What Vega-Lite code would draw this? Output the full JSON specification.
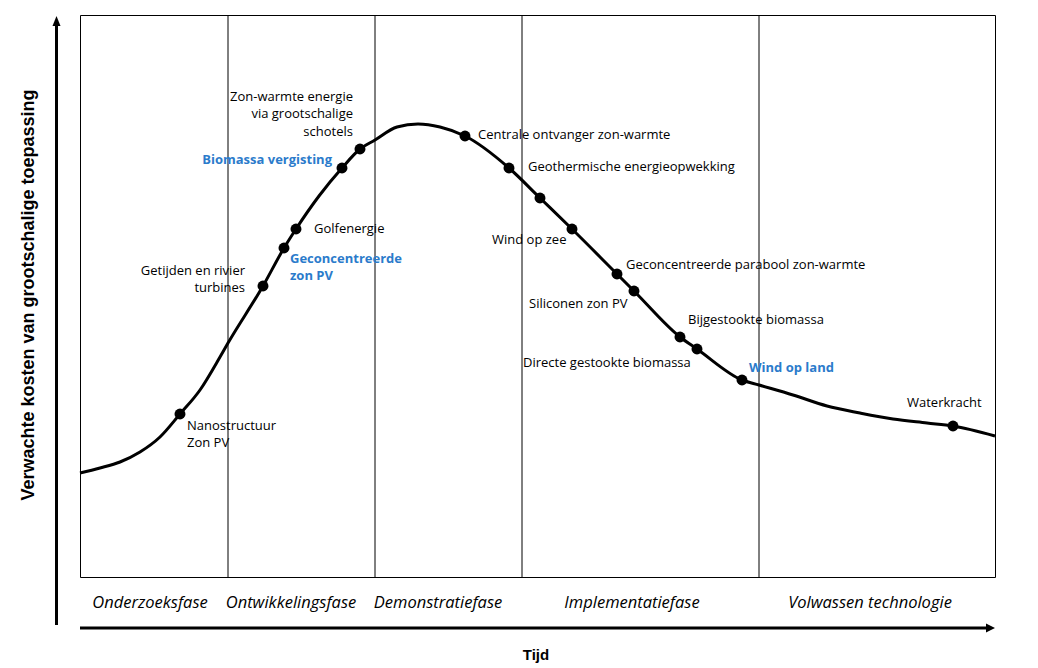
{
  "$schema": "https://vega.github.io/schema/vega-lite/v6.json",
  "width": 915,
  "height": 562,
  "autosize": {"type": "none"},
  "padding": {"left": 80, "top": 15, "right": 43, "bottom": 91},
  "background": "#ffffff",
  "config": {"view": {"stroke": "#000000", "strokeWidth": 1}},
  "datasets": {
    "curve": [
      {"t": 0, "cost": 104}, {"t": 20, "cost": 109}, {"t": 40, "cost": 115}, {"t": 60, "cost": 125},
      {"t": 80, "cost": 140}, {"t": 100, "cost": 163}, {"t": 120, "cost": 187}, {"t": 140, "cost": 220},
      {"t": 148, "cost": 234}, {"t": 183, "cost": 291}, {"t": 204, "cost": 329}, {"t": 216, "cost": 348},
      {"t": 239, "cost": 381}, {"t": 262, "cost": 409}, {"t": 280, "cost": 428}, {"t": 295, "cost": 437},
      {"t": 317, "cost": 450}, {"t": 338, "cost": 453}, {"t": 360, "cost": 450}, {"t": 385, "cost": 441},
      {"t": 429, "cost": 409}, {"t": 460, "cost": 379}, {"t": 492, "cost": 348}, {"t": 537, "cost": 303},
      {"t": 554, "cost": 286}, {"t": 600, "cost": 240}, {"t": 617, "cost": 228}, {"t": 662, "cost": 197},
      {"t": 679, "cost": 192}, {"t": 713, "cost": 182}, {"t": 747, "cost": 171}, {"t": 780, "cost": 164},
      {"t": 813, "cost": 158}, {"t": 847, "cost": 154}, {"t": 873, "cost": 151}, {"t": 915, "cost": 141}
    ],
    "dots": [
      {"t": 100, "cost": 163}, {"t": 183, "cost": 291}, {"t": 204, "cost": 329}, {"t": 216, "cost": 348},
      {"t": 262, "cost": 409}, {"t": 280, "cost": 428}, {"t": 385, "cost": 441}, {"t": 429, "cost": 409},
      {"t": 460, "cost": 379}, {"t": 492, "cost": 348}, {"t": 537, "cost": 303}, {"t": 554, "cost": 286},
      {"t": 600, "cost": 240}, {"t": 617, "cost": 228}, {"t": 662, "cost": 197}, {"t": 873, "cost": 151}
    ],
    "labelsRight": [
      {"label": "Zon-warmte energie\nvia grootschalige\nschotels", "t": 273, "cost": 476.5},
      {"label": "Getijden en rivier\nturbines", "t": 165, "cost": 302.5}
    ],
    "labelsRightBlue": [
      {"label": "Biomassa vergisting", "t": 252, "cost": 413.5}
    ],
    "labelsLeft": [
      {"label": "Golfenergie", "t": 234, "cost": 344.5},
      {"label": "Nanostructuur\nZon PV", "t": 107, "cost": 147.5},
      {"label": "Centrale ontvanger zon-warmte", "t": 398, "cost": 438.5},
      {"label": "Geothermische energieopwekking", "t": 448, "cost": 406.5},
      {"label": "Wind op zee", "t": 412, "cost": 333.5},
      {"label": "Geconcentreerde parabool zon-warmte", "t": 546, "cost": 308.5},
      {"label": "Siliconen zon PV", "t": 449, "cost": 269.5},
      {"label": "Bijgestookte biomassa", "t": 608, "cost": 253.5},
      {"label": "Directe gestookte biomassa", "t": 443, "cost": 210.5},
      {"label": "Waterkracht", "t": 827, "cost": 170.5}
    ],
    "labelsLeftBlue": [
      {"label": "Geconcentreerde\nzon PV", "t": 210, "cost": 314.5},
      {"label": "Wind op land", "t": 669, "cost": 205.5}
    ],
    "phases": [{"t": 148}, {"t": 295}, {"t": 442}, {"t": 679}],
    "phaseLabels": [
      {"label": "Onderzoeksfase", "t": 70},
      {"label": "Ontwikkelingsfase", "t": 211},
      {"label": "Demonstratiefase", "t": 358},
      {"label": "Implementatiefase", "t": 552},
      {"label": "Volwassen technologie", "t": 790}
    ],
    "one": [{}]
  },
  "layer": [
    {
      "data": {"name": "phases"},
      "mark": {"type": "rule", "color": "#000000", "strokeWidth": 1},
      "encoding": {
        "x": {"field": "t", "type": "quantitative", "scale": {"domain": [0, 915], "nice": false, "zero": false}, "axis": null}
      }
    },
    {
      "data": {"name": "curve"},
      "mark": {"type": "line", "color": "#000000", "strokeWidth": 3, "interpolate": "monotone"},
      "encoding": {
        "x": {"field": "t", "type": "quantitative", "scale": {"domain": [0, 915], "nice": false, "zero": false}, "axis": null},
        "y": {"field": "cost", "type": "quantitative", "scale": {"domain": [0, 562], "nice": false, "zero": false}, "axis": null}
      }
    },
    {
      "data": {"name": "dots"},
      "mark": {"type": "point", "filled": true, "color": "#000000", "opacity": 1, "size": 120},
      "encoding": {
        "x": {"field": "t", "type": "quantitative", "scale": {"domain": [0, 915], "nice": false, "zero": false}, "axis": null},
        "y": {"field": "cost", "type": "quantitative", "scale": {"domain": [0, 562], "nice": false, "zero": false}, "axis": null}
      }
    },
    {
      "data": {"name": "labelsRight"},
      "mark": {"type": "text", "align": "right", "baseline": "alphabetic", "font": "Open Sans", "fontSize": 13, "color": "#000000", "lineBreak": "\n", "lineHeight": 17.5},
      "encoding": {
        "x": {"field": "t", "type": "quantitative", "scale": {"domain": [0, 915], "nice": false, "zero": false}, "axis": null},
        "y": {"field": "cost", "type": "quantitative", "scale": {"domain": [0, 562], "nice": false, "zero": false}, "axis": null},
        "text": {"field": "label"}
      }
    },
    {
      "data": {"name": "labelsRightBlue"},
      "mark": {"type": "text", "align": "right", "baseline": "alphabetic", "font": "Open Sans", "fontSize": 13, "fontWeight": "bold", "color": "#2B7BCB", "lineBreak": "\n", "lineHeight": 17.5},
      "encoding": {
        "x": {"field": "t", "type": "quantitative", "scale": {"domain": [0, 915], "nice": false, "zero": false}, "axis": null},
        "y": {"field": "cost", "type": "quantitative", "scale": {"domain": [0, 562], "nice": false, "zero": false}, "axis": null},
        "text": {"field": "label"}
      }
    },
    {
      "data": {"name": "labelsLeft"},
      "mark": {"type": "text", "align": "left", "baseline": "alphabetic", "font": "Open Sans", "fontSize": 13, "color": "#000000", "lineBreak": "\n", "lineHeight": 17.5},
      "encoding": {
        "x": {"field": "t", "type": "quantitative", "scale": {"domain": [0, 915], "nice": false, "zero": false}, "axis": null},
        "y": {"field": "cost", "type": "quantitative", "scale": {"domain": [0, 562], "nice": false, "zero": false}, "axis": null},
        "text": {"field": "label"}
      }
    },
    {
      "data": {"name": "labelsLeftBlue"},
      "mark": {"type": "text", "align": "left", "baseline": "alphabetic", "font": "Open Sans", "fontSize": 13, "fontWeight": "bold", "color": "#2B7BCB", "lineBreak": "\n", "lineHeight": 17.5},
      "encoding": {
        "x": {"field": "t", "type": "quantitative", "scale": {"domain": [0, 915], "nice": false, "zero": false}, "axis": null},
        "y": {"field": "cost", "type": "quantitative", "scale": {"domain": [0, 562], "nice": false, "zero": false}, "axis": null},
        "text": {"field": "label"}
      }
    },
    {
      "data": {"name": "phaseLabels"},
      "mark": {"type": "text", "align": "center", "baseline": "alphabetic", "font": "Open Sans", "fontSize": 16.5, "fontStyle": "italic", "color": "#000000"},
      "encoding": {
        "x": {"field": "t", "type": "quantitative", "scale": {"domain": [0, 915], "nice": false, "zero": false}, "axis": null},
        "y": {"datum": -31, "type": "quantitative", "scale": {"domain": [0, 562], "nice": false, "zero": false}, "axis": null},
        "text": {"field": "label"}
      }
    },
    {
      "data": {"name": "one"},
      "mark": {"type": "rule", "color": "#000000", "strokeWidth": 3},
      "encoding": {
        "x": {"datum": -23.5, "type": "quantitative", "scale": {"domain": [0, 915], "nice": false, "zero": false}, "axis": null},
        "y": {"datum": -48, "type": "quantitative", "scale": {"domain": [0, 562], "nice": false, "zero": false}, "axis": null},
        "y2": {"datum": 552}
      }
    },
    {
      "data": {"name": "one"},
      "mark": {"type": "point", "filled": true, "opacity": 1, "color": "#000000", "shape": "M-0.8,1L0,-1L0.8,1Z", "size": 100},
      "encoding": {
        "x": {"datum": -23.5, "type": "quantitative", "scale": {"domain": [0, 915], "nice": false, "zero": false}, "axis": null},
        "y": {"datum": 556, "type": "quantitative", "scale": {"domain": [0, 562], "nice": false, "zero": false}, "axis": null}
      }
    },
    {
      "data": {"name": "one"},
      "mark": {"type": "rule", "color": "#000000", "strokeWidth": 3},
      "encoding": {
        "x": {"datum": 0, "type": "quantitative", "scale": {"domain": [0, 915], "nice": false, "zero": false}, "axis": null},
        "x2": {"datum": 907},
        "y": {"datum": -51, "type": "quantitative", "scale": {"domain": [0, 562], "nice": false, "zero": false}, "axis": null}
      }
    },
    {
      "data": {"name": "one"},
      "mark": {"type": "point", "filled": true, "opacity": 1, "color": "#000000", "shape": "M-1,-1L1,0L-1,1Z", "size": 81},
      "encoding": {
        "x": {"datum": 910.5, "type": "quantitative", "scale": {"domain": [0, 915], "nice": false, "zero": false}, "axis": null},
        "y": {"datum": -51, "type": "quantitative", "scale": {"domain": [0, 562], "nice": false, "zero": false}, "axis": null}
      }
    },
    {
      "data": {"name": "one"},
      "mark": {"type": "text", "align": "center", "baseline": "alphabetic", "font": "Liberation Sans", "fontSize": 15, "fontWeight": "bold", "color": "#000000", "text": "Tijd"},
      "encoding": {
        "x": {"datum": 456, "type": "quantitative", "scale": {"domain": [0, 915], "nice": false, "zero": false}, "axis": null},
        "y": {"datum": -83, "type": "quantitative", "scale": {"domain": [0, 562], "nice": false, "zero": false}, "axis": null}
      }
    },
    {
      "data": {"name": "one"},
      "mark": {"type": "text", "align": "center", "baseline": "middle", "angle": 270, "font": "Liberation Sans", "fontSize": 18, "fontWeight": "bold", "color": "#000000", "text": "Verwachte kosten van grootschalige toepassing"},
      "encoding": {
        "x": {"datum": -51, "type": "quantitative", "scale": {"domain": [0, 915], "nice": false, "zero": false}, "axis": null},
        "y": {"datum": 282, "type": "quantitative", "scale": {"domain": [0, 562], "nice": false, "zero": false}, "axis": null}
      }
    }
  ]
}
